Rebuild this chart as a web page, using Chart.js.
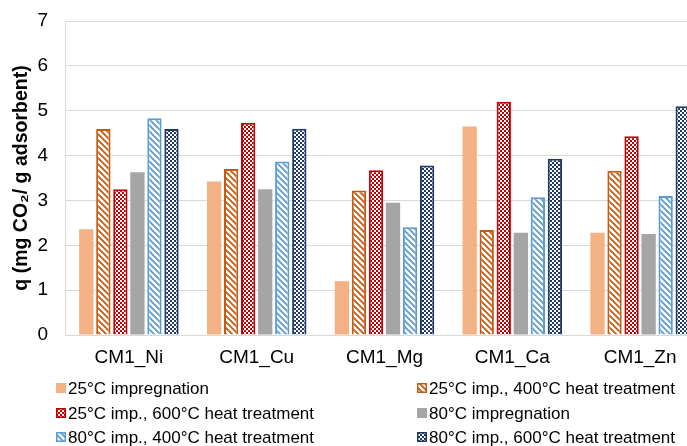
<!DOCTYPE html>
<html lang="en">
<head>
    <meta charset="utf-8">
    <title>CO2 adsorption capacity</title>
    <script src="https://cdn.jsdelivr.net/npm/chart.js@4.4.0/dist/chart.umd.min.js"></script>
    <style>
        html, body {
            margin: 0;
            padding: 0;
            background: #ffffff;
            overflow: hidden;
        }
    </style>
</head>
<body>
    <canvas id="myChart" width="704" height="446"></canvas>

<script>
    // categories and series
    var categories = ["CM1_Ni", "CM1_Cu", "CM1_Mg", "CM1_Ca", "CM1_Zn"];
    var seriesNames = [
        "25°C impregnation",
        "25°C imp., 400°C heat treatment",
        "25°C imp., 600°C heat treatment",
        "80°C impregnation",
        "80°C imp., 400°C heat treatment",
        "80°C imp., 600°C heat treatment"
    ];
    var imp25 = [2.36, 3.42, 1.20, 4.65, 2.28];
    var imp25_400 = [4.59, 3.70, 3.22, 2.34, 3.66];
    var imp25_600 = [3.25, 4.73, 3.67, 5.20, 4.43];
    var imp80 = [3.63, 3.25, 2.95, 2.28, 2.25];
    var imp80_400 = [4.83, 3.87, 2.40, 3.07, 3.10];
    var imp80_600 = [4.59, 4.60, 3.78, 3.93, 5.10];
    var yTicks = [0, 1, 2, 3, 4, 5, 6, 7];

    let stripes = (color) => {
        let c = document.createElement("canvas");
        c.width = 6; c.height = 6;
        let g = c.getContext("2d");
        g.fillStyle = "#ffffff";
        g.fillRect(0, 0, 6, 6);
        g.strokeStyle = color;
        g.lineWidth = 1.8;
        g.beginPath();
        g.moveTo(-1, -1); g.lineTo(7, 7);
        g.moveTo(-4, 2); g.lineTo(4, 10);
        g.moveTo(2, -4); g.lineTo(10, 4);
        g.stroke();
        return g.createPattern(c, "repeat");
    };

    let checker = (color) => {
        let c = document.createElement("canvas");
        c.width = 4; c.height = 4;
        let g = c.getContext("2d");
        g.fillStyle = color;
        g.fillRect(0, 0, 4, 4);
        g.fillStyle = "#ffffff";
        g.fillRect(0, 0, 2, 2);
        g.fillRect(2, 2, 2, 2);
        return g.createPattern(c, "repeat");
    };

    let datasets = [
        { label: seriesNames[0], data: imp25, backgroundColor: "#F4B183", borderColor: "#F4B183", borderWidth: 0 },
        { label: seriesNames[1], data: imp25_400, backgroundColor: stripes("#C55A11"), borderColor: "#C55A11", borderWidth: 2 },
        { label: seriesNames[2], data: imp25_600, backgroundColor: checker("#C00000"), borderColor: "#C00000", borderWidth: 2 },
        { label: seriesNames[3], data: imp80, backgroundColor: "#A5A5A5", borderColor: "#A5A5A5", borderWidth: 0 },
        { label: seriesNames[4], data: imp80_400, backgroundColor: stripes("#5B9BD5"), borderColor: "#5B9BD5", borderWidth: 2 },
        { label: seriesNames[5], data: imp80_600, backgroundColor: checker("#203864"), borderColor: "#203864", borderWidth: 2 }
    ];

    // two-column legend under the plot
    let legendGrid = {
        id: "legendGrid",
        afterDraw: (chart) => {
            let ctx = chart.ctx;
            let colX = [56, 417];
            let rowY = [388, 413, 437];
            ctx.save();
            ctx.font = "17px 'Liberation Sans', Arial, sans-serif";
            ctx.textBaseline = "middle";
            ctx.textAlign = "left";
            chart.data.datasets.forEach((ds, i) => {
                let x = colX[i % 2];
                let y = rowY[Math.floor(i / 2)];
                ctx.fillStyle = ds.backgroundColor;
                ctx.fillRect(x, y - 5, 10, 10);
                if (ds.borderWidth) {
                    ctx.strokeStyle = ds.borderColor;
                    ctx.lineWidth = 1.5;
                    ctx.strokeRect(x + 0.75, y - 4.25, 8.5, 8.5);
                }
                ctx.fillStyle = "#000000";
                ctx.fillText(ds.label, x + 12, y + 1);
            });
            ctx.restore();
        }
    };

    new Chart(document.getElementById("myChart"), {
        type: "bar",
        data: {
            labels: categories,
            datasets: datasets
        },
        options: {
            responsive: false,
            animation: false,
            layout: { padding: { top: 21, right: 0, bottom: 0, left: 0 } },
            datasets: {
                bar: { categoryPercentage: 0.8, barPercentage: 0.84 }
            },
            plugins: {
                legend: { display: false },
                tooltip: { enabled: false }
            },
            scales: {
                x: {
                    grid: { display: false, drawTicks: false },
                    border: { display: true, color: "#D9D9D9", width: 1 },
                    ticks: {
                        color: "#000000",
                        padding: 11,
                        font: { family: "'Liberation Sans', Arial, sans-serif", size: 19 }
                    },
                    afterFit: (scale) => { scale.height = 111; }
                },
                y: {
                    min: 0,
                    max: 7,
                    afterBuildTicks: (scale) => { scale.ticks = yTicks.map(v => ({ value: v })); },
                    grid: { color: "#D9D9D9", lineWidth: 1, drawTicks: false },
                    border: { display: true, color: "#D9D9D9", width: 1 },
                    ticks: {
                        color: "#000000",
                        padding: 17,
                        font: { family: "'Liberation Sans', Arial, sans-serif", size: 19 }
                    },
                    title: {
                        display: true,
                        text: "q (mg CO₂/ g adsorbent)",
                        color: "#000000",
                        padding: { top: 10, bottom: 0 },
                        font: { family: "'Liberation Sans', Arial, sans-serif", size: 19.5, weight: "bold" }
                    },
                    afterFit: (scale) => {
                        scale.width = 65;
                        scale.paddingTop = 0;
                        scale.paddingBottom = 0;
                    }
                }
            }
        },
        plugins: [legendGrid]
    });
</script>
</body>
</html>
